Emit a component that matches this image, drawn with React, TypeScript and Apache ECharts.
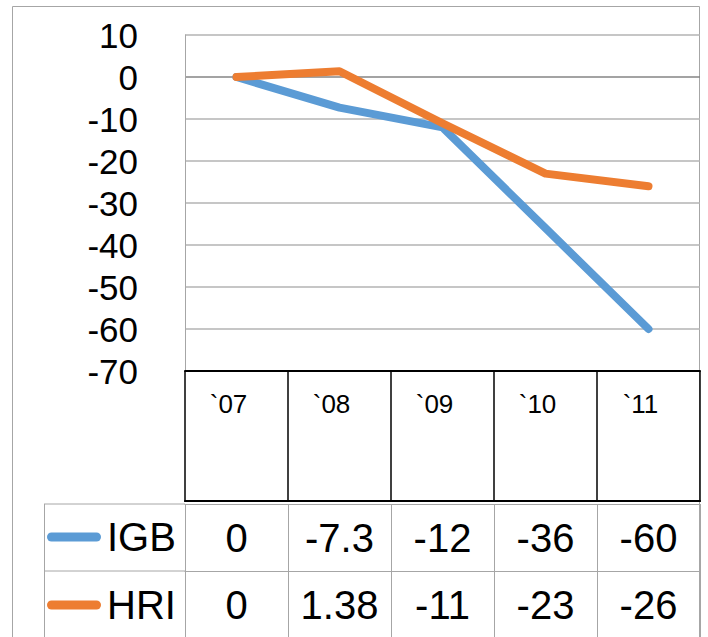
import React, { useEffect, useRef } from "react";
import * as echarts from "echarts";

const categories = ["`07", "`08", "`09", "`10", "`11"];
const igbValues = [0, -7.3, -12, -36, -60];
const hriValues = [0, 1.38, -11, -23, -26];
const seriesNames = ["IGB", "HRI"];
const yMin = -70;
const yMax = 10;
const yStep = 10;

const FONT = "'Liberation Sans', Arial, sans-serif";
const BLUE = "#5b9bd5";
const ORANGE = "#ed7d31";
const GRID_GRAY = "#a6a6a6";

export default function App() {
  const ref = useRef<HTMLDivElement>(null);

  useEffect(() => {
    document.body.style.margin = "0";
    const el = ref.current;
    if (!el) return;
    const chart = echarts.init(el, null, { renderer: "svg" });

    const splitColors: string[] = [];
    for (let v = yMin; v <= yMax; v += yStep) {
      splitColors.push(v === 0 ? "#858585" : "#b3b3b3");
    }

    const option: any = {
      animation: false,
      backgroundColor: "#ffffff",
      grid: { left: 185, right: 8, top: 35, bottom: 266, containLabel: false },
      legend: {
        data: seriesNames,
        orient: "vertical",
        left: 47,
        top: 517,
        padding: 0,
        itemWidth: 60,
        itemHeight: 9,
        itemGap: 28,
        icon: "path://M5,0H55A5,5 0 0 1 55,10H5A5,5 0 0 1 5,0Z",
        selectedMode: false,
        textStyle: { fontSize: 40, color: "#000", fontFamily: FONT, padding: [0, 0, 0, -2] },
      },
      xAxis: [
        {
          type: "category",
          data: categories,
          position: "bottom",
          offset: 0,
          axisLine: { show: true, onZero: false, lineStyle: { color: "#000", width: 2 } },
          axisTick: { show: true, length: 131, lineStyle: { color: "#000", width: 1.5 } },
          axisLabel: {
            interval: 0,
            fontSize: 26,
            color: "#000",
            fontFamily: FONT,
            margin: 20,
            padding: [0, 16, 0, 0],
          },
          splitLine: { show: false },
        },
        {
          type: "category",
          data: categories,
          position: "bottom",
          offset: 130,
          axisLine: { show: true, onZero: false, lineStyle: { color: "#000", width: 2 } },
          axisTick: { show: false },
          axisLabel: { show: false },
          splitLine: { show: false },
        },
        {
          type: "category",
          data: igbValues.map(String),
          position: "bottom",
          offset: 133,
          axisLine: { show: true, onZero: false, lineStyle: { color: GRID_GRAY, width: 1 } },
          axisTick: { show: true, length: 67, lineStyle: { color: GRID_GRAY, width: 1 } },
          axisLabel: { interval: 0, fontSize: 40, color: "#000", fontFamily: FONT, margin: 14 },
          splitLine: { show: false },
        },
        {
          type: "category",
          data: hriValues.map(String),
          position: "bottom",
          offset: 200,
          axisLine: { show: true, onZero: false, lineStyle: { color: GRID_GRAY, width: 1 } },
          axisTick: { show: true, length: 80, lineStyle: { color: GRID_GRAY, width: 1 } },
          axisLabel: { interval: 0, fontSize: 40, color: "#000", fontFamily: FONT, margin: 14 },
          splitLine: { show: false },
        },
      ],
      yAxis: {
        type: "value",
        min: yMin,
        max: yMax,
        interval: yStep,
        axisLine: { show: true, onZero: false, lineStyle: { color: GRID_GRAY, width: 1 } },
        axisTick: { show: false },
        splitLine: { show: true, lineStyle: { color: splitColors, width: 1.5 } },
        axisLabel: { fontSize: 35, color: "#000", fontFamily: FONT, margin: 47 },
      },
      series: [
        {
          name: seriesNames[0],
          type: "line",
          xAxisIndex: 0,
          yAxisIndex: 0,
          data: igbValues,
          symbol: "none",
          color: BLUE,
          lineStyle: { width: 8, color: BLUE, cap: "round", join: "round" },
          z: 3,
        },
        {
          name: seriesNames[1],
          type: "line",
          xAxisIndex: 0,
          yAxisIndex: 0,
          data: hriValues,
          symbol: "none",
          color: ORANGE,
          lineStyle: { width: 8, color: ORANGE, cap: "round", join: "round" },
          z: 4,
        },
      ],
      graphic: [
        {
          type: "rect",
          silent: true,
          shape: { x: 12.5, y: 6.5, width: 687, height: 700 },
          style: { fill: "none", stroke: GRID_GRAY, lineWidth: 1 },
          z: -1,
        },
        {
          type: "line",
          silent: true,
          shape: { x1: 44, y1: 504, x2: 185, y2: 504 },
          style: { stroke: GRID_GRAY, lineWidth: 1 },
        },
        {
          type: "line",
          silent: true,
          shape: { x1: 44, y1: 571, x2: 185, y2: 571 },
          style: { stroke: GRID_GRAY, lineWidth: 1 },
        },
        {
          type: "line",
          silent: true,
          shape: { x1: 44.5, y1: 504, x2: 44.5, y2: 637 },
          style: { stroke: GRID_GRAY, lineWidth: 1 },
        },
      ],
    };

    chart.setOption(option);
    return () => chart.dispose();
  }, []);

  return <div ref={ref} style={{ width: 708, height: 637 }} />;
}
